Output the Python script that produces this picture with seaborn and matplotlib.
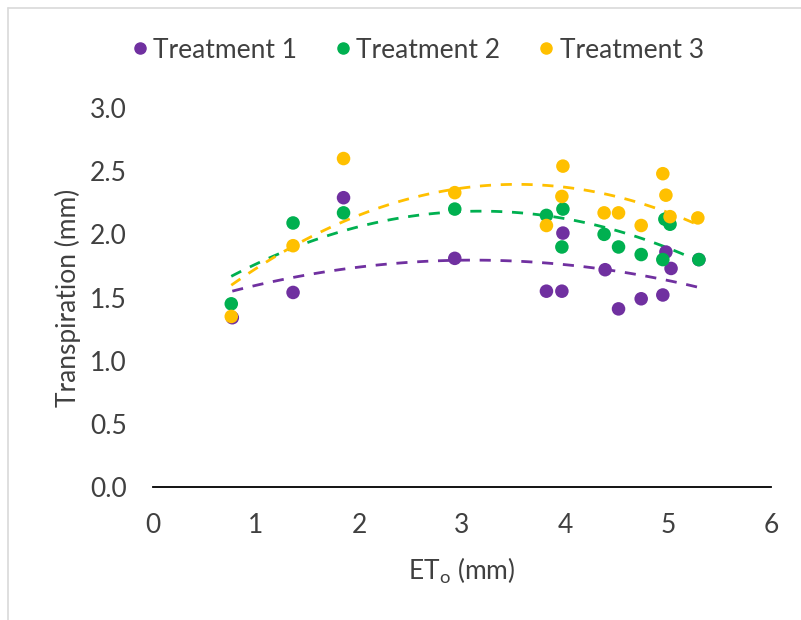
import numpy as np
import pandas as pd
import matplotlib
matplotlib.use("Agg")
import matplotlib.pyplot as plt
from matplotlib.lines import Line2D
import seaborn as sns

# ---- data ----
t1_x = [0.77, 1.36, 1.85, 2.93, 3.82, 3.97, 3.98, 4.39, 4.52, 4.74, 4.95, 4.98, 5.03, 5.30]
t1_y = [1.34, 1.54, 2.29, 1.81, 1.55, 1.55, 2.01, 1.72, 1.41, 1.49, 1.52, 1.86, 1.73, 1.80]

t2_x = [0.76, 1.36, 1.85, 2.93, 3.82, 3.98, 3.97, 4.38, 4.52, 4.74, 4.95, 4.97, 5.02, 5.30]
t2_y = [1.45, 2.09, 2.17, 2.20, 2.15, 2.20, 1.90, 2.00, 1.90, 1.84, 1.80, 2.12, 2.08, 1.80]

t3_x = [0.76, 1.36, 1.85, 2.93, 3.82, 3.98, 3.97, 4.38, 4.52, 4.74, 4.95, 4.98, 5.02, 5.29]
t3_y = [1.35, 1.91, 2.60, 2.33, 2.07, 2.54, 2.30, 2.17, 2.17, 2.07, 2.48, 2.31, 2.14, 2.13]

names = ["Treatment 1", "Treatment 2", "Treatment 3"]
colors = ["#7030A0", "#00B050", "#FFC000"]

x_ticks = [0, 1, 2, 3, 4, 5, 6]
y_ticks = [0.0, 0.5, 1.0, 1.5, 2.0, 2.5, 3.0]

df = pd.concat([
    pd.DataFrame({"ET0": t1_x, "T": t1_y, "g": names[0]}),
    pd.DataFrame({"ET0": t2_x, "T": t2_y, "g": names[1]}),
    pd.DataFrame({"ET0": t3_x, "T": t3_y, "g": names[2]}),
], ignore_index=True)

sns.set_theme(style="white")
plt.rcParams["font.family"] = ["Lato", "DejaVu Sans"]

FS = 19
TXT = "#404040"

fig = plt.figure(figsize=(8.01, 6.2), dpi=100)
ax = fig.add_axes([0.191, 0.2145, 0.7715, 0.6113])

pal = dict(zip(names, colors))
sns.scatterplot(data=df, x="ET0", y="T", hue="g", palette=pal, s=95,
                edgecolor="none", ax=ax, legend=False, zorder=3)
for n, c in zip(names, colors):
    sub = df[df["g"] == n]
    sns.regplot(data=sub, x="ET0", y="T", order=2, ci=None, scatter=False, ax=ax,
                line_kws=dict(color=c, lw=2.0, ls=(0, (4, 3.5))), truncate=True)

ax.set_xlim(0, 6)
ax.set_ylim(0, 3.0)
ax.set_xticks(x_ticks)
ax.set_yticks(y_ticks)
ax.set_xticklabels([str(v) for v in x_ticks], fontsize=FS, color=TXT)
ax.set_yticklabels([f"{v:.1f}" for v in y_ticks], fontsize=FS, color=TXT)
ax.tick_params(axis="x", length=0, pad=19)
ax.tick_params(axis="y", length=0, pad=19)
for s in ["top", "right", "left"]:
    ax.spines[s].set_visible(False)
ax.spines["bottom"].set_color("black")
ax.spines["bottom"].set_linewidth(1.3)
ax.grid(False)

ax.set_xlabel(r"ET$_\mathregular{o}$ (mm)", fontsize=FS, color=TXT, labelpad=12)
ax.set_ylabel("Transpiration (mm)", fontsize=FS, color=TXT, labelpad=6)

handles = [Line2D([], [], marker="o", ls="none", color=c, markersize=8) for c in colors]
fig.legend(handles, names, loc="center", bbox_to_anchor=(0.519, 0.919), ncol=3,
           frameon=False, fontsize=FS, handletextpad=0.05, columnspacing=1.3,
           labelcolor=TXT, handlelength=0.9)

# chart-area border (top and left)
fig.add_artist(Line2D([0.01, 1.0], [0.987, 0.987], color="#d9d9d9", lw=1.2))
fig.add_artist(Line2D([0.01, 0.01], [0.0, 0.987], color="#d9d9d9", lw=1.2))

fig.savefig("out.png", dpi=100, facecolor="white")
